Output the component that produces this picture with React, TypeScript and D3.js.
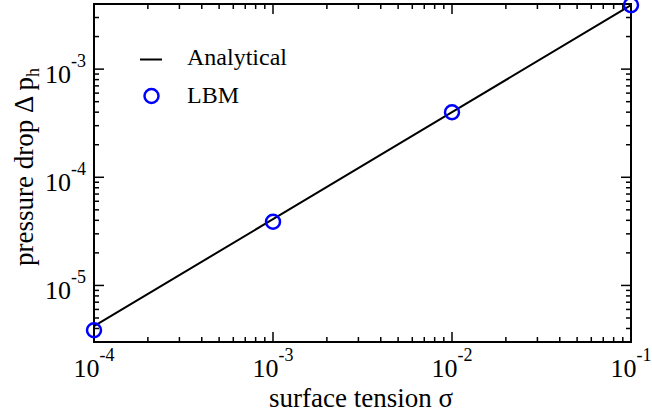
import React from "react";
import * as d3 from "d3";

const sigmaValues = [1e-4, 1e-3, 1e-2, 1e-1];
const analyticalValues = [4.2e-6, 4.1e-5, 4.0e-4, 3.9e-3];
const lbmValues = [3.85e-6, 3.88e-5, 3.99e-4, 3.9e-3];
const xTickExps = [-4, -3, -2, -1];
const yTickExps = [-5, -4, -3];
const legendLabels = ["Analytical", "LBM"];

const W = 652, H = 416;
const L = 94, R = 631, T = 4, B = 342;
const FONT = "'Liberation Serif', 'Times New Roman', serif";

export default function App() {
  const x = d3.scaleLog().domain([1e-4, 1e-1]).range([L, R]);
  const y = d3.scaleLog().domain([3e-6, 4e-3]).range([B, T]);

  const minorX: number[] = [];
  for (let e = -4; e < -1; e++) for (let m = 2; m <= 9; m++) minorX.push(m * Math.pow(10, e));
  const minorY: number[] = [];
  for (let e = -6; e <= -3; e++) for (let m = 2; m <= 9; m++) {
    const v = m * Math.pow(10, e);
    if (v >= 3e-6 && v <= 4e-3) minorY.push(v);
  }

  const line = d3.line<number>().x((_, i) => x(sigmaValues[i])).y((d) => y(d));

  const tickStyle = { stroke: "#000", strokeWidth: 1.5 };
  const MAJ = 10, MIN = 5;

  return (
    <svg width={W} height={H} style={{ position: "absolute", left: 0, top: 0 }} fontFamily={FONT}>
      <rect x={0} y={0} width={W} height={H} fill="#fff" />
      {xTickExps.map((e) => {
        const px = x(Math.pow(10, e));
        return (
          <g key={"xm" + e}>
            <line x1={px} x2={px} y1={B} y2={B - MAJ} {...tickStyle} />
            <line x1={px} x2={px} y1={T} y2={T + MAJ} {...tickStyle} />
          </g>
        );
      })}
      {minorX.map((v, i) => {
        const px = x(v);
        return (
          <g key={"xn" + i}>
            <line x1={px} x2={px} y1={B} y2={B - MIN} {...tickStyle} />
            <line x1={px} x2={px} y1={T} y2={T + MIN} {...tickStyle} />
          </g>
        );
      })}
      {yTickExps.map((e) => {
        const py = y(Math.pow(10, e));
        return (
          <g key={"ym" + e}>
            <line x1={L} x2={L + MAJ} y1={py} y2={py} {...tickStyle} />
            <line x1={R} x2={R - MAJ} y1={py} y2={py} {...tickStyle} />
          </g>
        );
      })}
      {minorY.map((v, i) => {
        const py = y(v);
        return (
          <g key={"yn" + i}>
            <line x1={L} x2={L + MIN} y1={py} y2={py} {...tickStyle} />
            <line x1={R} x2={R - MIN} y1={py} y2={py} {...tickStyle} />
          </g>
        );
      })}
      <path d={line(analyticalValues) || ""} fill="none" stroke="#000" strokeWidth={2} />
      <rect x={L} y={T} width={R - L} height={B - T} fill="none" stroke="#000" strokeWidth={2} />
      {lbmValues.map((v, i) => (
        <circle key={"p" + i} cx={x(sigmaValues[i])} cy={y(v)} r={7} fill="none" stroke="#0000ff" strokeWidth={2.5} />
      ))}
      {xTickExps.map((e) => (
        <text key={"xl" + e} x={x(Math.pow(10, e))} y={377} textAnchor="middle" fontSize={26} fill="#000">
          10<tspan fontSize={18} dy={-16}>{e}</tspan>
        </text>
      ))}
      {yTickExps.map((e) => (
        <text key={"yl" + e} x={86} y={y(Math.pow(10, e)) + 14} textAnchor="end" fontSize={26} fill="#000">
          10<tspan fontSize={18} dy={-16}>{e}</tspan>
        </text>
      ))}
      <text x={361} y={407} textAnchor="middle" fontSize={27} fill="#000">surface tension σ</text>
      <text transform={`translate(33,167) rotate(-90)`} textAnchor="middle" fontSize={27} fill="#000">
        pressure drop Δ p<tspan fontSize={18} dy={6}>h</tspan>
      </text>
      <line x1={140} x2={162} y1={59.5} y2={59.5} stroke="#000" strokeWidth={2} />
      <text x={187} y={65} fontSize={24} fill="#000">{legendLabels[0]}</text>
      <circle cx={151.5} cy={96} r={7} fill="none" stroke="#0000ff" strokeWidth={2.5} />
      <text x={187} y={103} fontSize={24} fill="#000">{legendLabels[1]}</text>
    </svg>
  );
}
